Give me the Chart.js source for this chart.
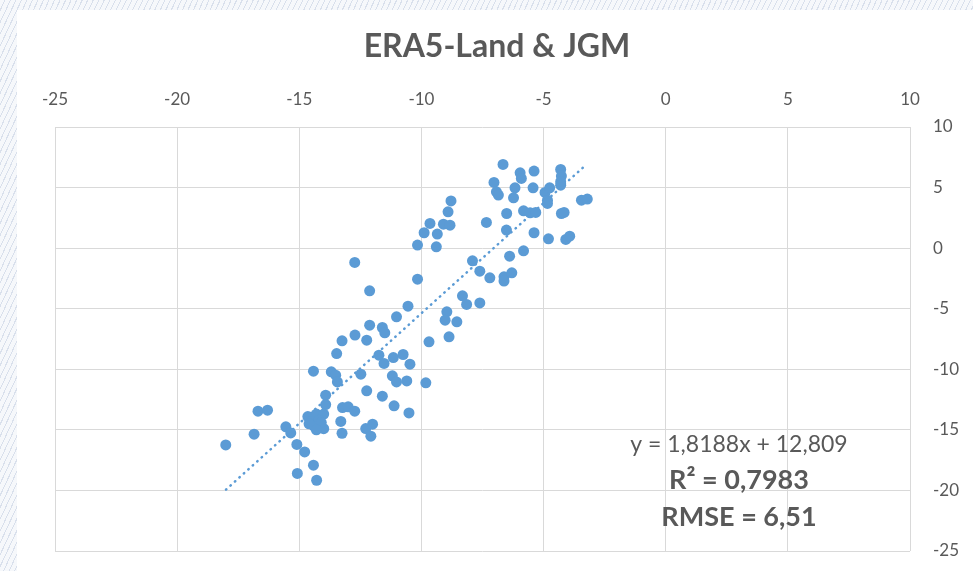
<!DOCTYPE html>
<html>
<head>
<meta charset="utf-8">
<script src="https://cdn.jsdelivr.net/npm/chart.js@4"></script>
<style>
  html, body { margin: 0; padding: 0; }
  body {
    width: 973px; height: 571px; overflow: hidden; position: relative;
    background: repeating-linear-gradient(115deg, #f6f8fb 0px, #f6f8fb 4px, #d9e0ec 4px, #d9e0ec 5px);
  }
  #card { position: absolute; left: 17px; top: 10px; right: 0; bottom: 0; background: #fff; }
  #myChart { position: absolute; left: 0; top: 0; }
</style>
</head>
<body>
<div id="card"></div>
<canvas id="myChart" width="973" height="571"></canvas>
<script>
// ERA5-Land (x) vs JGM (y)
let era5 = [-8.79,-8.91,-9.65,-9.10,-8.83,-9.89,-9.35,-10.16,-9.39,-12.73,
  -10.16,-12.12,-10.55,-11.02,-6.66,-5.96,-5.91,-5.39,-4.30,-4.27,
  -4.30,-4.30,-7.03,-6.17,-6.93,-6.85,-6.23,-5.43,-4.94,-4.75,
  -4.84,-4.84,-3.45,-3.21,-6.51,-5.82,-5.55,-5.32,-4.27,-4.16,
  -7.34,-6.52,-5.39,-4.80,-4.09,-3.93,-5.82,-6.39,-7.91,-7.61,
  -7.20,-6.62,-6.30,-6.62,-8.32,-8.15,-7.61,-8.96,-9.03,-8.55,
  -8.87,-9.69,-12.12,-11.60,-11.50,-12.72,-13.25,-12.24,-13.47,-11.74,
  -11.53,-11.15,-10.75,-10.47,-14.42,-13.69,-13.51,-13.44,-12.48,-11.19,
  -11.02,-10.60,-9.82,-13.92,-13.92,-12.24,-11.60,-11.12,-10.51,-13.23,
  -13.00,-12.73,-16.69,-16.30,-14.65,-14.30,-14.00,-14.50,-14.20,-14.00,
  -14.40,-14.60,-14.10,-14.30,-13.30,-13.25,-15.55,-15.35,-16.85,-18.01,
  -15.10,-14.78,-14.42,-15.08,-14.29,-12.28,-12.00,-12.07]
let jgm = [3.90,3.00,2.04,1.98,1.90,1.27,1.16,0.25,0.11,-1.18,
  -2.56,-3.52,-4.79,-5.67,6.91,6.22,5.75,6.36,6.50,5.95,
  5.48,5.20,5.42,4.98,4.65,4.38,4.15,4.98,4.60,4.98,
  3.96,3.69,3.96,4.05,2.86,3.08,2.92,2.95,2.86,2.95,
  2.12,1.49,1.27,0.77,0.72,0.99,-0.22,-0.66,-1.05,-1.90,
  -2.45,-2.37,-2.04,-2.72,-3.94,-4.65,-4.52,-5.26,-5.95,-6.08,
  -7.32,-7.73,-6.36,-6.55,-6.99,-7.18,-7.65,-7.60,-8.70,-8.84,
  -9.52,-9.03,-8.78,-9.58,-10.16,-10.21,-10.49,-11.04,-10.40,-10.54,
  -11.04,-10.96,-11.12,-12.14,-12.91,-11.78,-12.22,-13.02,-13.60,-13.16,
  -13.10,-13.46,-13.46,-13.38,-13.90,-13.70,-13.70,-14.30,-14.20,-14.90,
  -14.70,-14.50,-14.40,-15.00,-14.30,-15.28,-14.75,-15.25,-15.36,-16.24,
  -16.20,-16.82,-17.92,-18.60,-19.16,-14.89,-14.53,-15.52]

// linear trendline ends
let trendX = [-18.0, -3.3]
let trendY = [-19.93, 6.81]

let xTicks = [-25,-20,-15,-10,-5,0,5,10]
let yTicks = [10,5,0,-5,-10,-15,-20,-25]
let title = 'ERA5-Land & JGM'
let notes = ["y = 1,8188x + 12,809", "R\u00b2 = 0,7983", "RMSE = 6,51"]

let grey = "#595959"
let blue = "#5B9BD5"
let fontFam = "Lato, 'Open Sans', sans-serif"

let points = era5.map((v, i) => ({x: v, y: jgm[i]}))
let trend = trendX.map((v, i) => ({x: v, y: trendY[i]}))

// title and trendline labels, drawn by hand like the excel text boxes
let notePlugin = {
  id: 'notes',
  afterDraw(chart) {
    let c = chart.ctx
    let xs = chart.scales.x, ys = chart.scales.y
    let cx = xs.getPixelForValue(3.0)
    c.save()
    c.fillStyle = grey
    c.textAlign = 'center'
    c.textBaseline = 'middle'
    c.font = "bold 32px " + fontFam
    c.fillText(title, 497, 47)
    c.font = "23px " + fontFam
    c.fillText(notes[0], cx, ys.getPixelForValue(-16.2))
    c.font = "bold 27px " + fontFam
    c.fillText(notes[1], cx, ys.getPixelForValue(-19.2))
    c.fillText(notes[2], cx, ys.getPixelForValue(-22.2))
    c.restore()
  }
}

let ctx = document.getElementById("myChart").getContext('2d')
new Chart(ctx, {
  type: 'scatter',
  data: {
    datasets: [
      {
        label: 'JGM',
        data: points,
        backgroundColor: blue,
        borderColor: blue,
        pointRadius: 5.5,
        pointHoverRadius: 5.5,
        borderWidth: 0
      },
      {
        type: 'line',
        label: 'Linear',
        data: trend,
        borderColor: blue,
        borderWidth: 2.5,
        borderDash: [0.5, 5.5],
        borderCapStyle: 'round',
        pointRadius: 0,
        fill: false
      }
    ]
  },
  options: {
    responsive: false,
    animation: false,
    devicePixelRatio: 1,
    layout: { padding: { left: 55, right: 0, top: 0, bottom: 20 } },
    plugins: {
      legend: { display: false },
      tooltip: { enabled: false },
      title: { display: false }
    },
    scales: {
      x: {
        type: 'linear',
        position: 'top',
        min: -25, max: 10,
        afterBuildTicks: s => { s.ticks = xTicks.map(v => ({value: v})) },
        afterFit: s => { s.height = 127 },
        grid: { color: '#d9d9d9', lineWidth: 1, drawTicks: false },
        border: { display: false },
        ticks: { color: grey, font: { family: fontFam, size: 17 }, padding: 17, maxRotation: 0 }
      },
      y: {
        type: 'linear',
        position: 'right',
        min: -25, max: 10,
        afterBuildTicks: s => { s.ticks = yTicks.map(v => ({value: v})) },
        afterFit: s => { s.width = 63; s.paddingTop = 0; s.paddingBottom = 0 },
        grid: { color: '#d9d9d9', lineWidth: 1, drawTicks: false },
        border: { display: false },
        ticks: { color: grey, font: { family: fontFam, size: 17 }, padding: 23, crossAlign: 'near' }
      }
    }
  },
  plugins: [notePlugin]
})
</script>
</body>
</html>
